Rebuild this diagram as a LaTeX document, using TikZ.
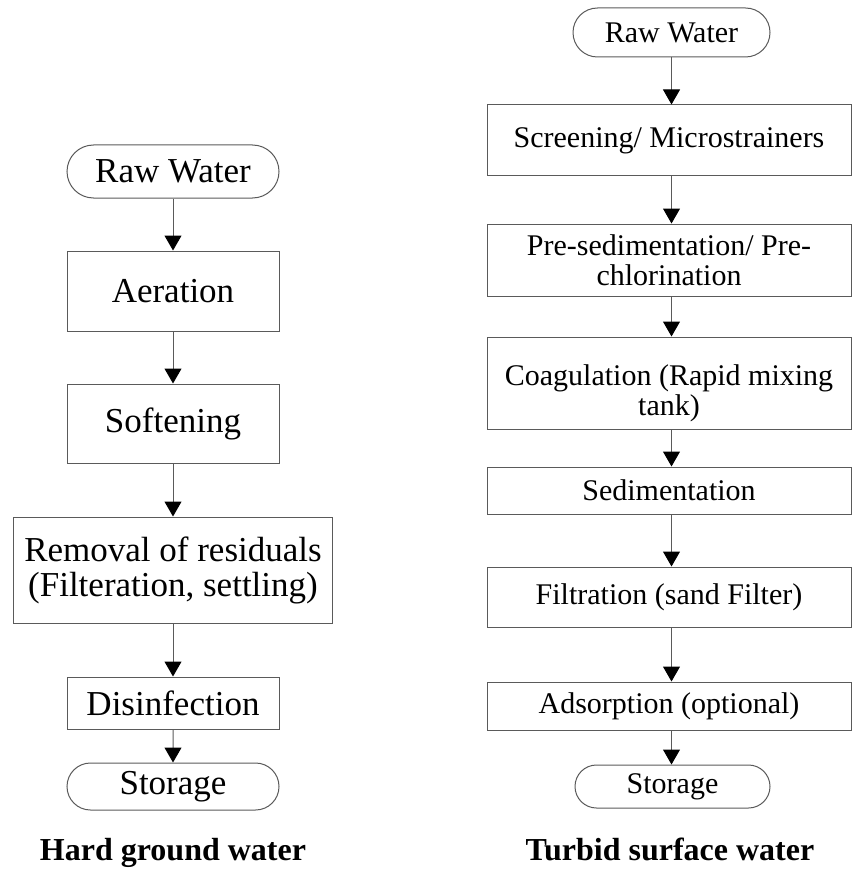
\documentclass[tikz,border=0pt]{standalone}
\usepackage{fontspec}
\setmainfont{Liberation Serif}
\usetikzlibrary{shapes.misc, arrows.meta, positioning}
\definecolor{lineColor}{RGB}{90,90,90}
\newcommand{\leftfont}{\fontsize{35}{35}\selectfont}
\newcommand{\rightfont}{\fontsize{30}{30}\selectfont}

\begin{document}
\begin{tikzpicture}[x=1pt, y=-1pt,
    process/.style={rectangle, draw=lineColor, line width=1pt, inner sep=0pt, align=center},
    terminal/.style={rounded rectangle, draw=lineColor, line width=1pt, inner sep=0pt},
    arrow/.style={-{Triangle[length=15pt, width=17pt, color=black]}, draw=lineColor, line width=1pt},
    caption/.style={anchor=base, font=\fontsize{32}{32}\selectfont\bfseries}
]
    \useasboundingbox (0,0) rectangle (851,869);

    % Hard ground water
    \node[terminal, minimum width=212pt, minimum height=53pt, font=\leftfont] (rawL) at (173,171.5) {Raw Water};
    \node[process, minimum width=212pt, minimum height=80pt, font=\leftfont] (aer) at (173,291) {Aeration};
    \node[process, minimum width=212pt, minimum height=79pt, font=\leftfont] (soft) at (173,423.5) {Softening};
    \node[process, minimum width=319pt, minimum height=106pt, font=\leftfont] (rem) at (173,570) {Removal of residuals\\(Filteration, settling)};
    \node[process, minimum width=212pt, minimum height=52pt, font=\leftfont] (dis) at (173,703) {Disinfection};
    \node[terminal, minimum width=212pt, minimum height=47pt, font=\leftfont] (stoL) at (173,786.5) {Storage};
    \node[caption] (capL) at (173,860) {Hard ground water};

    % Turbid surface water
    \node[terminal, minimum width=197pt, minimum height=49pt, font=\rightfont] (rawR) at (671.5,32.5) {Raw Water};
    \node[process, minimum width=364pt, minimum height=71pt, font=\rightfont] (scr) at (669,140.5) {Screening/ Microstrainers};
    \node[process, minimum width=364pt, minimum height=72pt, font=\rightfont] (pre) at (669,260) {Pre-sedimentation/ Pre-\\chlorination};
    \node[process, minimum width=364pt, minimum height=92pt, font=\rightfont] (coag) at (669,383) {\rule{0pt}{41pt}Coagulation (Rapid mixing\\tank)};
    \node[process, minimum width=364pt, minimum height=47pt, font=\rightfont] (sed) at (669,490.5) {Sedimentation};
    \node[process, minimum width=364pt, minimum height=60pt, font=\rightfont] (fil) at (669,597) {Filtration (sand Filter)};
    \node[process, minimum width=364pt, minimum height=48pt, font=\rightfont] (ads) at (669,706) {Adsorption (optional)};
    \node[terminal, minimum width=195pt, minimum height=43pt, font=\rightfont] (stoR) at (672.5,786.5) {Storage};
    \node[caption] (capR) at (670,860) {Turbid surface water};

    % Arrows
    \draw[arrow] (rawL) -- (aer);
    \draw[arrow] (aer) -- (soft);
    \draw[arrow] (soft) -- (rem);
    \draw[arrow] (rem) -- (dis);
    \draw[arrow] (dis) -- (stoL);

    \draw[arrow] (rawR) -- (rawR |- scr.north);
    \draw[arrow] (scr.south -| rawR) -- (pre.north -| rawR);
    \draw[arrow] (pre.south -| rawR) -- (coag.north -| rawR);
    \draw[arrow] (coag.south -| rawR) -- (sed.north -| rawR);
    \draw[arrow] (sed.south -| rawR) -- (fil.north -| rawR);
    \draw[arrow] (fil.south -| rawR) -- (ads.north -| rawR);
    \draw[arrow] (ads.south -| rawR) -- (stoR.north -| rawR);
\end{tikzpicture}
\end{document}
